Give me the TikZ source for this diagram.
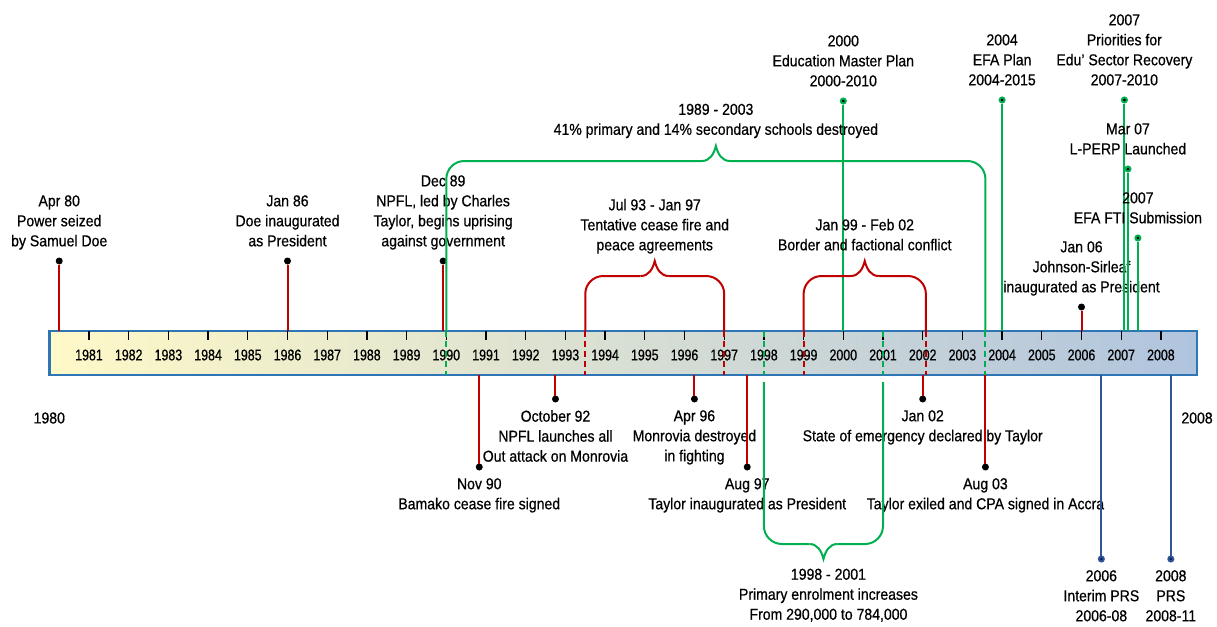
\documentclass[tikz,border=0pt]{standalone}
\usepackage{fontspec}
\setmainfont[FakeStretch=0.89, FakeBold=0.6]{Liberation Sans}
\newfontfamily\yearfont[FakeStretch=0.8, FakeBold=0.6]{Liberation Sans}
\usetikzlibrary{positioning}
\definecolor{evred}{RGB}{192,0,0}
\definecolor{edugreen}{RGB}{0,176,80}
\definecolor{prsblue}{RGB}{47,85,151}
\definecolor{prsnavy}{RGB}{0,32,96}
\definecolor{barline}{RGB}{46,117,182}
\definecolor{barleft}{RGB}{255,249,200}
\definecolor{barright}{RGB}{176,196,222}

\begin{document}
\begin{tikzpicture}[
  x=39.7pt, y=-1pt, shift={(49.3pt,0pt)},
  every node/.style={font=\fontsize{15.8}{20}\selectfont},
  evtext/.style={align=center, inner sep=0pt,
                 execute at begin node=\strut, execute at end node=\strut},
  yeartext/.style={font=\yearfont\fontsize{15.5}{17}\selectfont},
  rdot/.style={circle, fill=black, inner sep=0pt, outer sep=0pt, minimum size=7pt},
  gdot/.style={circle, fill=black, draw=edugreen, line width=2pt, inner sep=0pt, minimum size=5pt},
  bdot/.style={circle, fill=prsnavy, draw=prsblue, line width=2pt, inner sep=0pt, minimum size=5pt},
  rline/.style={evred, line width=2pt},
  gline/.style={edugreen, line width=2pt},
  bline/.style={prsblue, line width=2pt},
  rdash/.style={rline, dash pattern=on 6pt off 4pt},
  gdash/.style={gline, dash pattern=on 6pt off 4pt},
  timebar/.style={draw=barline, line width=2.5pt, left color=barleft, right color=barright,
                  minimum width=1147.7pt, minimum height=44pt, inner sep=0pt, outer sep=0pt}
]
\useasboundingbox (-1.2418,0) rectangle (29.413,626);

% time bar
\node[timebar, anchor=north west] (bar) at (0,331) {};
\foreach \yr [evaluate=\yr as \yy using int(1980+\yr)] in {1,...,28} {
  \draw[line width=1.3pt] (\yr,331) -- (\yr,340);
  \node[yeartext] (y\yy) at (\yr,355) {\yy};
}
\node (start) at (0,418) {1980};
\node (end) at (28.91,418) {2008};

% period marks through the bar
\foreach \x in {13.5,17,19,22.08}
  \draw[rdash] (\x,331) -- (\x,375);
\foreach \x in {10,18,21,23.58}
  \draw[gdash] (\x,331) -- (\x,375);

% events above the bar
\node[rdot] (apr80) at (0.25,261) {};
\node[evtext, above=5pt of apr80] (tapr80) {Apr 80\\Power seized\\by Samuel Doe};
\draw[rline] (apr80) -- (apr80 |- bar.north);

\node[rdot] (jan86) at (6,261) {};
\node[evtext, above=5pt of jan86] (tjan86) {Jan 86\\Doe inaugurated\\as President};
\draw[rline] (jan86) -- (jan86 |- bar.north);

\node[rdot] (dec89) at (9.92,261) {};
\node[evtext, above=5pt of dec89] (tdec89) {Dec 89\\NPFL, led by Charles\\Taylor, begins uprising\\against government};
\draw[rline] (dec89) -- (dec89 |- bar.north);

\node[rdot] (jan06) at (26,307) {};
\node[evtext, above=5pt of jan06] (tjan06) {Jan 06\\Johnson-Sirleaf\\inaugurated as President};
\draw[rline] (jan06) -- (jan06 |- bar.north);

% education plans
\node[gdot] (emp) at (20,101) {};
\node[evtext, above=5pt of emp] (temp) {2000\\Education Master Plan\\2000-2010};
\draw[gline] (emp) -- (emp |- bar.north);

\node[gdot] (efa) at (24,100) {};
\node[evtext, above=5pt of efa] (tefa) {2004\\EFA Plan\\2004-2015};
\draw[gline] (efa) -- (efa |- bar.north);

\node[gdot] (prio) at (27.08,100) {};
\node[evtext, above=5pt of prio] (tprio) {2007\\Priorities for\\Edu' Sector Recovery\\2007-2010};
\draw[gline] (prio) -- (prio |- bar.north);

\node[gdot] (lperp) at (27.17,169) {};
\node[evtext, above=5pt of lperp] (tlperp) {Mar 07\\L-PERP Launched};
\draw[gline] (lperp) -- (lperp |- bar.north);

\node[gdot] (fti) at (27.42,238) {};
\node[evtext, above=5pt of fti] (tfti) {2007\\EFA FTI Submission};
\draw[gline] (fti) -- (fti |- bar.north);

% events below the bar
\node[rdot] (nov90) at (10.83,467) {};
\node[evtext, below=7.5pt of nov90] (tnov90) {Nov 90\\Bamako cease fire signed};
\draw[rline] (nov90) -- (nov90 |- bar.south);

\node[rdot] (oct92) at (12.75,399) {};
\node[evtext, below=7.5pt of oct92] (toct92) {October 92\\NPFL launches all\\Out attack on Monrovia};
\draw[rline] (oct92) -- (oct92 |- bar.south);

\node[rdot] (apr96) at (16.25,399) {};
\node[evtext, below=7.5pt of apr96] (tapr96) {Apr 96\\Monrovia destroyed\\in fighting};
\draw[rline] (apr96) -- (apr96 |- bar.south);

\node[rdot] (aug97) at (17.58,467) {};
\node[evtext, below=7.5pt of aug97] (taug97) {Aug 97\\Taylor inaugurated as President};
\draw[rline] (aug97) -- (aug97 |- bar.south);

\node[rdot] (jan02) at (22,399) {};
\node[evtext, below=7.5pt of jan02] (tjan02) {Jan 02\\State of emergency declared by Taylor};
\draw[rline] (jan02) -- (jan02 |- bar.south);

\node[rdot] (aug03) at (23.58,467) {};
\node[evtext, below=7.5pt of aug03] (taug03) {Aug 03\\Taylor exiled and CPA signed in Accra};
\draw[rline] (aug03) -- (aug03 |- bar.south);

% poverty reduction strategies
\node[bdot] (iprs) at (26.5,559) {};
\node[evtext, below=7.5pt of iprs] (tiprs) {2006\\Interim PRS\\2006-08};
\draw[bline] (iprs) -- (iprs |- bar.south);

\node[bdot] (prs) at (28.25,559) {};
\node[evtext, below=7.5pt of prs] (tprs) {2008\\PRS\\2008-11};
\draw[bline] (prs) -- (prs |- bar.south);

% 1989 - 2003 brace
\coordinate (tipwar) at (16.79,146);
\draw[gline, rounded corners=18pt] (10,331) |- ([xshift=-14pt,yshift=-15pt]tipwar);
\draw[gline] ([xshift=-14pt,yshift=-15pt]tipwar) .. controls +(8pt,0pt) and +(-2pt,-8pt) .. (tipwar)
  .. controls +(2pt,-8pt) and +(-8pt,0pt) .. ([xshift=14pt,yshift=-15pt]tipwar);
\draw[gline, rounded corners=18pt] ([xshift=14pt,yshift=-15pt]tipwar) -| (23.58,331);
\node[evtext, above=5pt of tipwar] (twar) {1989 - 2003\\41\% primary and 14\% secondary schools destroyed};

% Jul 93 - Jan 97 brace
\coordinate (tipcease) at (15.25,261);
\draw[rline, rounded corners=18pt] (13.5,331) |- ([xshift=-14pt,yshift=-15pt]tipcease);
\draw[rline] ([xshift=-14pt,yshift=-15pt]tipcease) .. controls +(8pt,0pt) and +(-2pt,-8pt) .. (tipcease)
  .. controls +(2pt,-8pt) and +(-8pt,0pt) .. ([xshift=14pt,yshift=-15pt]tipcease);
\draw[rline, rounded corners=18pt] ([xshift=14pt,yshift=-15pt]tipcease) -| (17,331);
\node[evtext, above=4.5pt of tipcease] (tcease) {Jul 93 - Jan 97\\Tentative cease fire and\\peace agreements};

% Jan 99 - Feb 02 brace
\coordinate (tipborder) at (20.54,261);
\draw[rline, rounded corners=18pt] (19,331) |- ([xshift=-14pt,yshift=-15pt]tipborder);
\draw[rline] ([xshift=-14pt,yshift=-15pt]tipborder) .. controls +(8pt,0pt) and +(-2pt,-8pt) .. (tipborder)
  .. controls +(2pt,-8pt) and +(-8pt,0pt) .. ([xshift=14pt,yshift=-15pt]tipborder);
\draw[rline, rounded corners=18pt] ([xshift=14pt,yshift=-15pt]tipborder) -| (22.08,331);
\node[evtext, above=4.5pt of tipborder] (tborder) {Jan 99 - Feb 02\\Border and factional conflict};

% 1998 - 2001 brace
\coordinate (tipenrol) at (19.5,559);
\draw[gline, rounded corners=18pt] (18,382) |- ([xshift=-14pt,yshift=15pt]tipenrol);
\draw[gline] ([xshift=-14pt,yshift=15pt]tipenrol) .. controls +(8pt,0pt) and +(-2pt,8pt) .. (tipenrol)
  .. controls +(2pt,8pt) and +(-8pt,0pt) .. ([xshift=14pt,yshift=15pt]tipenrol);
\draw[gline, rounded corners=18pt] ([xshift=14pt,yshift=15pt]tipenrol) -| (21,382);
\node[evtext, below=9.5pt of tipenrol, xshift=5pt] (tenrol) {1998 - 2001\\Primary enrolment increases\\From 290,000 to 784,000};

\end{tikzpicture}
\end{document}
